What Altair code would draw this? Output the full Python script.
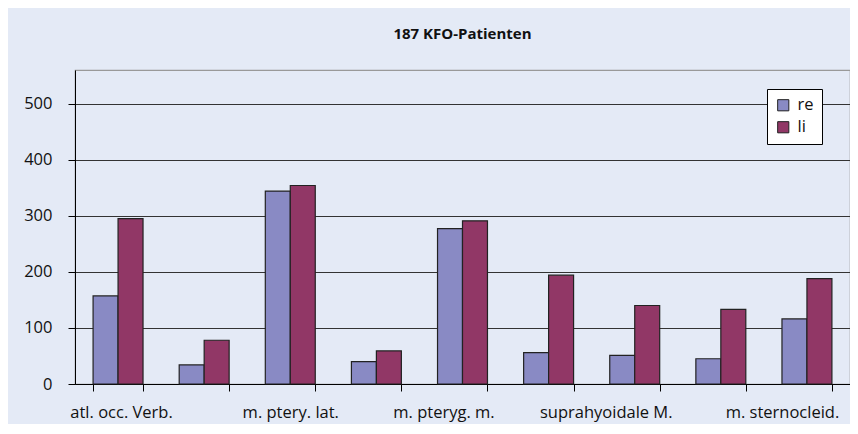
import json
import altair as alt
import pandas as pd

categories = ["atl. occ. Verb.", "", "m. ptery. lat.", "", "m. pteryg. m.", "",
              "suprahyoidale M.", "", "m. sternocleid."]
series = ["re", "li"]
re_values = [157, 34, 344, 40, 277, 56, 51, 45, 116]
li_values = [295, 78, 354, 59, 291, 194, 140, 133, 188]
y_ticks = [0, 100, 200, 300, 400, 500]

rows = []
for i in range(len(categories)):
    rows.append({"idx": i, "serie": "re", "value": re_values[i]})
    rows.append({"idx": i, "serie": "li", "value": li_values[i]})
df = pd.DataFrame(rows)

label_expr = json.dumps(categories) + "[datum.value]"

font = "Open Sans"

label_offset = {
    "condition": [
        {"test": "datum.value == 0", "value": 3},
        {"test": "datum.value == 4", "value": -19},
        {"test": "datum.value == 6", "value": -29},
        {"test": "datum.value == 8", "value": -25},
    ],
    "value": 0,
}

chart = alt.Chart(df).mark_bar(stroke="#222222", strokeWidth=1.2).encode(
    x=alt.X("idx:O",
            scale=alt.Scale(paddingInner=0.42, paddingOuter=0.21),
            axis=alt.Axis(title=None, labelAngle=0, labelExpr=label_expr,
                          tickBand="extent", ticks=True, tickSize=7,
                          tickColor="#000000", domainColor="#000000",
                          labelPadding=13, labelFontSize=16.5,
                          labelOffset=label_offset,
                          labelColor="#111111", labelFont=font, grid=False)),
    xOffset=alt.XOffset("serie:N", sort=series, scale=alt.Scale(paddingInner=0, paddingOuter=0)),
    y=alt.Y("value:Q",
            scale=alt.Scale(domain=[0, 560], nice=False),
            axis=alt.Axis(title=None, values=y_ticks, tickSize=7,
                          tickColor="#000000", domainColor="#000000",
                          gridColor="#333333", gridOpacity=1, grid=True,
                          labelPadding=16, labelFontSize=16.5,
                          labelColor="#111111", labelFont=font)),
    color=alt.Color("serie:N", sort=series,
                    scale=alt.Scale(domain=series, range=["#898AC4", "#913766"]),
                    legend=alt.Legend(title=None, orient="none", legendX=692, legendY=19,
                                      fillColor="#FFFFFF", strokeColor="#000000",
                                      padding=8, symbolType="square", symbolSize=125,
                                      symbolStrokeColor="#222222", symbolStrokeWidth=1,
                                      labelFontSize=16.5, labelFont=font,
                                      labelColor="#111111", rowPadding=5,
                                      labelOffset=6, symbolOpacity=1)),
).properties(
    width=775,
    height=314,
    title=alt.Title("187 KFO-Patienten", fontSize=15, font=font, fontWeight="bold",
                    color="#111111", offset=28, anchor="middle"),
    autosize=alt.AutoSizeParams(type="none"),
    padding={"left": 67, "top": 62, "right": 0, "bottom": 40},
    background="#E4EAF6",
).configure_view(
    stroke="#999999", strokeWidth=1.2
)

chart.save("out.html", embed_options={"renderer": "svg", "actions": False})
